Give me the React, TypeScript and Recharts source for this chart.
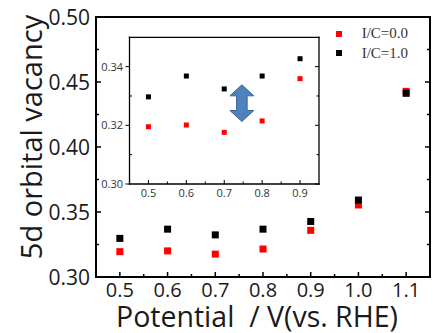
import { ScatterChart, Scatter, XAxis, YAxis, Label, ReferenceArea } from 'recharts';

const potentials = [0.5, 0.6, 0.7, 0.8, 0.9, 1.0, 1.1];
const vacancyIC00 = [0.3195, 0.3201, 0.3176, 0.3215, 0.3359, 0.3554, 0.4428];
const vacancyIC10 = [0.3297, 0.3368, 0.3324, 0.3368, 0.3427, 0.3592, 0.4413];

const xMajor = [0.5, 0.6, 0.7, 0.8, 0.9, 1.0, 1.1];
const xMinor = [0.55, 0.65, 0.75, 0.85, 0.95, 1.05];
const yMajor = [0.3, 0.35, 0.4, 0.45, 0.5];
const yMinor = [0.325, 0.375, 0.425, 0.475];

const insetXMajor = [0.5, 0.6, 0.7, 0.8, 0.9];
const insetXMinor = [0.55, 0.65, 0.75, 0.85];
const insetYMajor = [0.3, 0.32, 0.34];
const insetYMinor = [0.31, 0.33];

const series = [
  { name: 'I/C=0.0', color: '#ff0000', values: vacancyIC00 },
  { name: 'I/C=1.0', color: '#000000', values: vacancyIC10 },
];

const toPoints = (vals: number[], n = vals.length) =>
  potentials.slice(0, n).map((x, i) => ({ x, y: vals[i] }));

const isMajor = (majors: number[], v: number) => majors.some((m) => Math.abs(m - v) < 1e-9);
const sorted = (a: number[], b: number[]) => [...a, ...b].sort((p, q) => p - q);

const font = "'Open Sans', sans-serif";

type TickOpts = { majors: number[]; len: number; minorLen: number; margin: number; size: number; digits: number; color: string; sw: number; outward?: boolean };

const bottomTick = (o: TickOpts) => (p: any) => {
  const v = p.payload.value;
  const major = isMajor(o.majors, v);
  const y0 = p.y - o.margin;
  return (
    <g>
      <line x1={p.x} x2={p.x} y1={y0} y2={y0 - (major ? o.len : o.minorLen)} stroke="#000" strokeWidth={o.sw} />
      {major && (
        <text x={p.x} y={p.y + o.size * 0.72} textAnchor="middle" fontSize={o.size} fontFamily={font} fill={o.color}>
          {v.toFixed(o.digits)}
        </text>
      )}
    </g>
  );
};

const leftTick = (o: TickOpts) => (p: any) => {
  const v = p.payload.value;
  const major = isMajor(o.majors, v);
  const x0 = p.x + o.margin;
  const l = major ? o.len : o.minorLen;
  return (
    <g>
      <line x1={x0} x2={major && o.outward ? x0 - l : x0 + l} y1={p.y} y2={p.y} stroke="#000" strokeWidth={o.sw} />
      {major && (
        <text x={p.x} y={p.y + o.size * 0.36} textAnchor="end" fontSize={o.size} fontFamily={font} fill={o.color}>
          {v.toFixed(o.digits)}
        </text>
      )}
    </g>
  );
};

const topTick = (majors: number[], len: number, minorLen: number, sw: number) => (p: any) => {
  const major = isMajor(majors, p.payload.value);
  return <line x1={p.x} x2={p.x} y1={p.y} y2={p.y + (major ? len : minorLen)} stroke="#000" strokeWidth={sw} />;
};

const rightTick = (majors: number[], len: number, minorLen: number, sw: number) => (p: any) => {
  const major = isMajor(majors, p.payload.value);
  return <line x1={p.x} x2={p.x - (major ? len : minorLen)} y1={p.y} y2={p.y} stroke="#000" strokeWidth={sw} />;
};

const square = (s: number, color: string) => (p: any) =>
  <rect x={p.cx - s / 2} y={p.cy - s / 2} width={s} height={s} fill={color} />;

const arrowShape = (p: any) => {
  const { x, y, width: w, height: h } = p;
  const cx = x + w / 2;
  const hh = h * 0.3;
  const sw = w * 0.22;
  const pts = [
    [cx, y], [x + w, y + hh], [cx + sw, y + hh], [cx + sw, y + h - hh], [x + w, y + h - hh],
    [cx, y + h], [x, y + h - hh], [cx - sw, y + h - hh], [cx - sw, y + hh], [x, y + hh],
  ].map((q) => q.join(',')).join(' ');
  return <polygon points={pts} fill="#4f81bd" stroke="#3a6496" strokeWidth={1} />;
};

const mainAxisLine = { stroke: '#000', strokeWidth: 2, strokeLinecap: 'square' as const };
const insetAxisLine = { stroke: '#000', strokeWidth: 1.3, strokeLinecap: 'square' as const };

export default function App() {
  return (
    <div style={{ position: 'absolute', left: 0, top: 0, width: 433, height: 333, background: '#fff' }}>
      <ScatterChart width={433} height={333} margin={{ top: 16, right: 2, bottom: 0, left: 0 }}>
        <XAxis
          xAxisId="b" type="number" dataKey="x" domain={[0.45, 1.15]} allowDataOverflow
          ticks={sorted(xMajor, xMinor)} interval={0} tickSize={0} tickMargin={6} height={56}
          axisLine={mainAxisLine} tickLine={false}
          tick={bottomTick({ majors: xMajor, len: 5, minorLen: 3, margin: 6, size: 20, digits: 1, color: '#1a1a1a', sw: 1.5 })}
        >
          <Label
            content={({ viewBox }: any) => (
              <text x={viewBox.x + viewBox.width / 2 - 6} y={viewBox.y + 50} textAnchor="middle" fontSize={28.5}
                fontFamily={font} fill="#1a1a1a" xmlSpace="preserve" style={{ whiteSpace: 'pre' }}>
                {'Potential  / V(vs. RHE)'}
              </text>
            )}
          />
        </XAxis>
        <XAxis
          xAxisId="t" orientation="top" type="number" domain={[0.45, 1.15]} allowDataOverflow
          ticks={sorted(xMajor, xMinor)} interval={0} tickSize={0} tickMargin={0} height={1}
          axisLine={mainAxisLine} tickLine={false} tick={topTick(xMajor, 5, 3, 1.5)}
        />
        <YAxis
          yAxisId="l" type="number" dataKey="y" domain={[0.3, 0.5]} allowDataOverflow
          ticks={sorted(yMajor, yMinor)} interval={0} tickSize={0} tickMargin={6} width={96}
          axisLine={mainAxisLine} tickLine={false}
          tick={leftTick({ majors: yMajor, len: 5, minorLen: 3, margin: 6, size: 21, digits: 2, color: '#1a1a1a', sw: 1.5 })}
        >
          <Label
            content={({ viewBox }: any) => {
              const cx = 30;
              const cy = viewBox.y + viewBox.height / 2 - 10;
              return (
                <text x={cx} y={cy} textAnchor="middle" dominantBaseline="central" fontSize={29}
                  fontFamily={font} fill="#1a1a1a" transform={`rotate(-90, ${cx}, ${cy})`}>
                  5d orbital vacancy
                </text>
              );
            }}
          />
        </YAxis>
        <YAxis
          yAxisId="r" orientation="right" type="number" domain={[0.3, 0.5]} allowDataOverflow
          ticks={sorted(yMajor, yMinor)} interval={0} tickSize={0} tickMargin={0} width={1}
          axisLine={mainAxisLine} tickLine={false} tick={rightTick(yMajor, 5, 3, 1.5)}
        />
        {series.map((s) => (
          <Scatter key={s.name} name={s.name} xAxisId="b" yAxisId="l" data={toPoints(s.values)}
            shape={square(7, s.color)} isAnimationActive={false} />
        ))}
      </ScatterChart>

      <div style={{ position: 'absolute', left: 100, top: 30, width: 225, height: 175 }}>
        <ScatterChart width={225} height={175} margin={{ top: 6.3, right: 5, bottom: 0, left: 0 }}>
          <XAxis
            xAxisId="b" type="number" dataKey="x" domain={[0.45, 0.95]} allowDataOverflow
            ticks={sorted(insetXMajor, insetXMinor)} interval={0} tickSize={0} tickMargin={5} height={21}
            axisLine={insetAxisLine} tickLine={false}
            tick={bottomTick({ majors: insetXMajor, len: 4, minorLen: 2.5, margin: 5, size: 11, digits: 1, color: '#333', sw: 1 })}
          />
          <XAxis
            xAxisId="t" orientation="top" type="number" domain={[0.45, 0.95]} allowDataOverflow
            ticks={sorted(insetXMajor, insetXMinor)} interval={0} tickSize={0} tickMargin={0} height={1}
            axisLine={insetAxisLine} tickLine={false} tick={topTick(insetXMajor, 4, 2.5, 1)}
          />
          <YAxis
            yAxisId="l" type="number" dataKey="y" domain={[0.3, 0.35]} allowDataOverflow
            ticks={sorted(insetYMajor, insetYMinor)} interval={0} tickSize={0} tickMargin={6.5} width={29.5}
            axisLine={insetAxisLine} tickLine={false}
            tick={leftTick({ majors: insetYMajor, len: 4, minorLen: 2.5, margin: 6.5, size: 11, digits: 2, color: '#333', sw: 1, outward: true })}
          />
          <YAxis
            yAxisId="r" orientation="right" type="number" domain={[0.3, 0.35]} allowDataOverflow
            ticks={sorted(insetYMajor, insetYMinor)} interval={0} tickSize={0} tickMargin={0} width={1}
            axisLine={insetAxisLine} tickLine={false} tick={rightTick(insetYMajor, 4, 2.5, 1)}
          />
          {series.map((s) => (
            <Scatter key={s.name} name={s.name} xAxisId="b" yAxisId="l" data={toPoints(s.values, 5)}
              shape={square(5, s.color)} isAnimationActive={false} />
          ))}
          <ReferenceArea xAxisId="b" yAxisId="l" x1={0.715} x2={0.778} y1={0.3213} y2={0.3338}
            shape={arrowShape} ifOverflow="visible" />
        </ScatterChart>
      </div>

      <div style={{ position: 'absolute', left: 336.3, top: 24.35 }}>
        {series.map((s) => (
          <div key={s.name} style={{ display: 'flex', alignItems: 'center', height: 19.3 }}>
            <span style={{ width: 6, height: 6, background: s.color, display: 'inline-block' }} />
            <span style={{ marginLeft: 19.4, fontFamily: "'Liberation Serif', serif", fontSize: 15, color: '#333', lineHeight: '19.3px' }}>
              {s.name}
            </span>
          </div>
        ))}
      </div>
    </div>
  );
}
